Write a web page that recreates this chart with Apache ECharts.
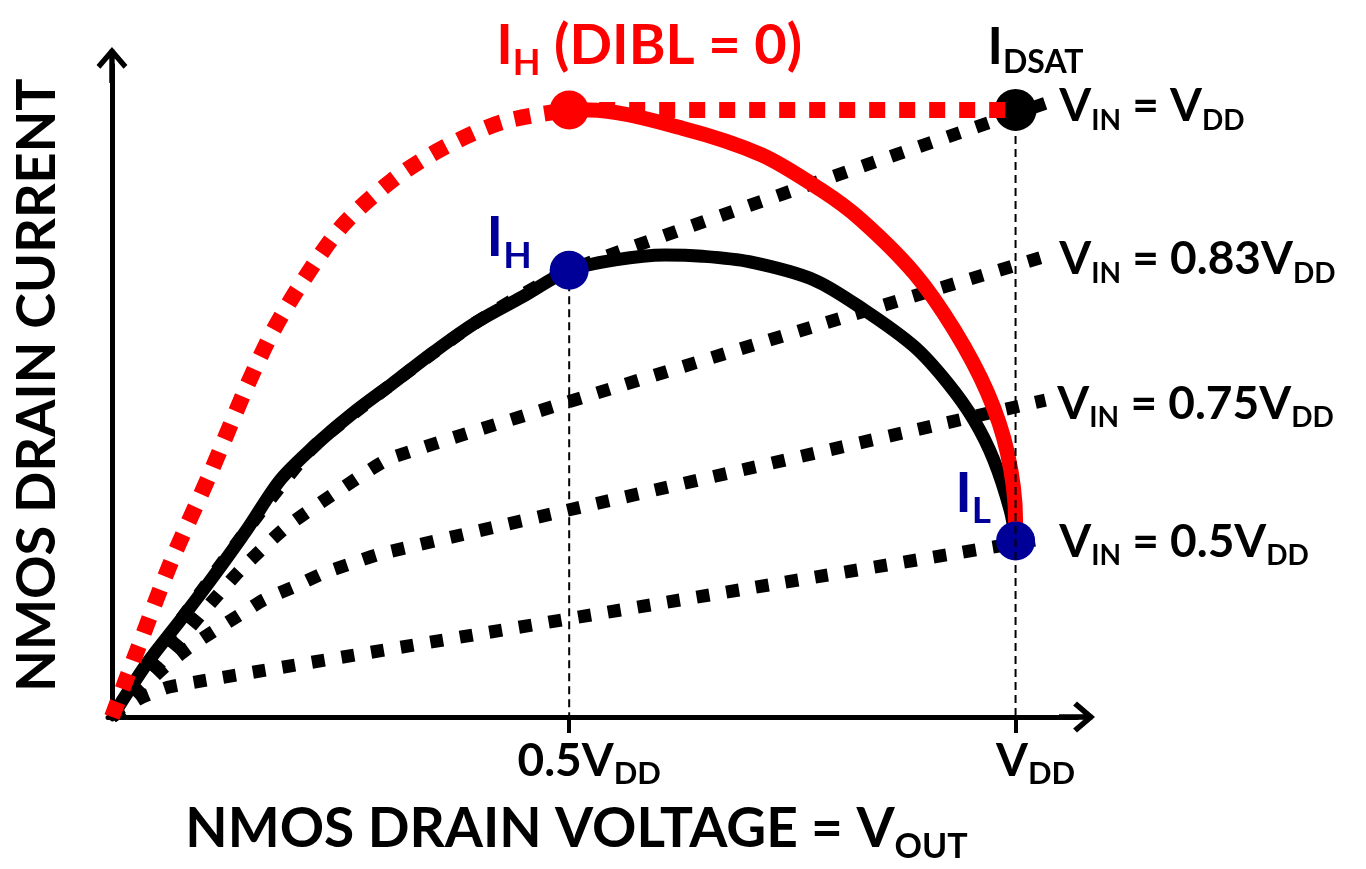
<!DOCTYPE html>
<html><head><meta charset="utf-8">
<script src="https://cdn.jsdelivr.net/npm/echarts@6/dist/echarts.min.js"></script>
<style>html,body{margin:0;padding:0;background:#fff}#c{width:1366px;height:869px}</style>
</head><body><div id="c"></div>
<script>
// x in units of VDD, y in units of IDSAT
const trajectory = [[0,0],[0.039,0.089],[0.076,0.160],[0.112,0.231],[0.149,0.308],[0.186,0.390],[0.223,0.445],[0.267,0.501],[0.311,0.550],[0.355,0.600],[0.402,0.649],[0.454,0.692],[0.506,0.736],[0.557,0.753],[0.612,0.761],[0.653,0.759],[0.705,0.750],[0.777,0.720],[0.832,0.671],[0.888,0.610],[0.925,0.550],[0.954,0.489],[0.976,0.423],[0.994,0.341],[1.0,0.292]];
const vinVdd = [[0,0],[0.076,0.160],[0.149,0.308],[0.223,0.445],[0.311,0.550],[0.402,0.649],[0.506,0.736],[1.035,1.012]];
const vin083 = [[0,0],[0.057,0.095],[0.098,0.168],[0.142,0.242],[0.193,0.313],[0.252,0.374],[0.311,0.428],[1.035,0.760]];
const vin075 = [[0,0],[0.032,0.045],[0.054,0.077],[0.083,0.112],[0.109,0.138],[0.138,0.165],[0.168,0.193],[0.201,0.214],[0.234,0.237],[0.267,0.254],[0.300,0.270],[1.033,0.522]];
const vin05 = [[0,0],[0.030,0.030],[0.060,0.048],[0.090,0.057],[1.035,0.295]];
const dibl0Curve = [[0,0],[0.028,0.110],[0.065,0.254],[0.109,0.402],[0.149,0.544],[0.179,0.638],[0.212,0.720],[0.256,0.811],[0.311,0.885],[0.366,0.937],[0.432,0.980],[0.506,1.0]];
const dibl0Flat = [[0.506,1.0],[1.0,1.0]];
const dibl0Trajectory = [[0.506,1.0],[0.528,1.0],[0.631,0.970],[0.719,0.926],[0.785,0.868],[0.829,0.819],[0.888,0.731],[0.932,0.638],[0.969,0.534],[0.991,0.435],[1.0,0.325],[1.0,0.305]];
const ptIH0 = [0.506, 1.0];
const ptIDSAT = [1.0, 1.0];
const ptIH = [0.506, 0.736];
const ptIL = [1.0, 0.29];
const xTicks = [0.506, 1.0];
const xTickLabels = ['0.5V|DD', 'V|DD'];
const vinLabels = ['V|IN| = V|DD', 'V|IN| = 0.83V|DD', 'V|IN| = 0.75V|DD', 'V|IN| = 0.5V|DD'];

const FONT = 'Lato';
function rich(main, sub, L, hs, color) {
  return {
    m: {fontFamily: FONT, fontWeight: 700, fontSize: main, lineHeight: L, color: color},
    s: {fontFamily: FONT, fontWeight: 700, fontSize: sub, lineHeight: hs, verticalAlign: 'bottom', color: color}
  };
}
function fmt(str) {
  return str.split('|').map((t, i) => (i % 2 === 0 ? '{m|' : '{s|') + t + '}').join('');
}
const dotted = {color: '#000', width: 13, type: [13, 17], cap: 'butt'};
function vinSeries(data, label) {
  return {
    type: 'line', data: data, smooth: 0.2, symbol: 'none', clip: false, z: 1,
    lineStyle: dotted,
    endLabel: {show: true, distance: 12, offset: [0, 4], formatter: () => fmt(label), rich: rich(46, 28, 56, 19, '#000')}
  };
}
const arrow = 'path://M0,0 L12,14 L9,17 L0,6.5 L-9,17 L-12,14 Z M-2.1,2 L2.1,2 L2.1,28 L-2.1,28 Z';

const chart = echarts.init(document.getElementById('c'));
chart.setOption({
  animation: false,
  backgroundColor: '#fff',
  grid: {left: 104, top: 65, width: 973, bottom: 150},
  xAxis: {
    type: 'value', min: -0.0044, max: 1.068,
    axisLine: {show: true, lineStyle: {color: '#000', width: 5}, symbol: ['none', arrow], symbolSize: [31, 36]},
    splitLine: {show: false},
    axisTick: {show: true, customValues: xTicks, length: 16, lineStyle: {color: '#000', width: 4}},
    axisLabel: {show: true, customValues: xTicks, margin: 14, padding: [0, 0, 0, 40],
      formatter: v => fmt(xTickLabels[v > 0.9 ? 1 : 0]), rich: rich(46, 31, 56, 17, '#000')},
    name: fmt('NMOS DRAIN VOLTAGE = V|OUT'), nameLocation: 'middle', nameGap: 75,
    nameTextStyle: {padding: [0, 32, 0, 0], rich: rich(55, 34, 70, 23, '#000')}
  },
  yAxis: {
    type: 'value', min: -0.0033, max: 1.074,
    axisLine: {show: true, lineStyle: {color: '#000', width: 5}, symbol: ['none', arrow], symbolSize: [31, 36]},
    splitLine: {show: false}, axisTick: {show: false}, axisLabel: {show: false},
    name: 'NMOS DRAIN CURRENT', nameLocation: 'middle', nameGap: 40, nameRotate: 90,
    nameTextStyle: {fontFamily: FONT, fontWeight: 700, fontSize: 54, color: '#000', lineHeight: 60, padding: [0, 0, 0, 14]}
  },
  series: [
    vinSeries(vin05, vinLabels[3]),
    vinSeries(vin075, vinLabels[2]),
    vinSeries(vin083, vinLabels[1]),
    vinSeries(vinVdd, vinLabels[0]),
    {type: 'line', data: trajectory, smooth: 0.3, symbol: 'none', clip: false, z: 2,
      lineStyle: {color: '#000', width: 13}},
    {type: 'scatter', data: [{value: ptIDSAT,
        label: {show: true, position: 'top', distance: 10, offset: [20, 0], formatter: fmt('I|DSAT'), rich: rich(52, 32, 64, 20, '#000')}}],
      symbolSize: 42, itemStyle: {color: '#000', opacity: 1}, z: 2.5},
    {type: 'line', data: dibl0Curve, smooth: 0.3, symbol: 'none', clip: false, z: 3,
      lineStyle: {color: '#ff0000', width: 16, type: [16, 14], cap: 'butt'}},
    {type: 'line', data: dibl0Flat, symbol: 'none', clip: false, z: 3,
      lineStyle: {color: '#ff0000', width: 16, type: [16, 14], cap: 'butt'}},
    {type: 'line', data: dibl0Trajectory, smooth: 0.3, symbol: 'none', clip: false, z: 3,
      lineStyle: {color: '#ff0000', width: 15}},
    {type: 'line', data: [ptIH, [ptIH[0], 0]], symbol: 'none', clip: false, z: 4,
      lineStyle: {color: '#000', width: 2, type: [8, 5]}},
    {type: 'scatter', z: 6, symbolSize: 39, data: [
      {value: ptIH0, itemStyle: {color: '#ff0000', opacity: 1},
        label: {show: true, position: 'top', distance: 5, offset: [80, -4], formatter: fmt('I|H| (DIBL = 0)'), rich: rich(56, 36, 70, 24, '#ff0000')}},
      {value: ptIH, itemStyle: {color: '#000099', opacity: 1},
        label: {show: true, position: 'left', distance: 5, offset: [-13, -32], formatter: fmt('I|H'), rich: rich(56, 37, 72, 25, '#000099')}},
      {value: ptIL, itemStyle: {color: '#000099', opacity: 1},
        label: {show: true, position: 'left', distance: 5, offset: [0, -47], formatter: fmt('I|L'), rich: rich(56, 37, 72, 25, '#000099')}}
    ]},
    {type: 'line', data: [ptIDSAT, [ptIDSAT[0], 0]], symbol: 'none', clip: false, z: 7,
      lineStyle: {color: '#000', width: 2, type: [8, 5]}}
  ]
});
</script>
</body></html>
